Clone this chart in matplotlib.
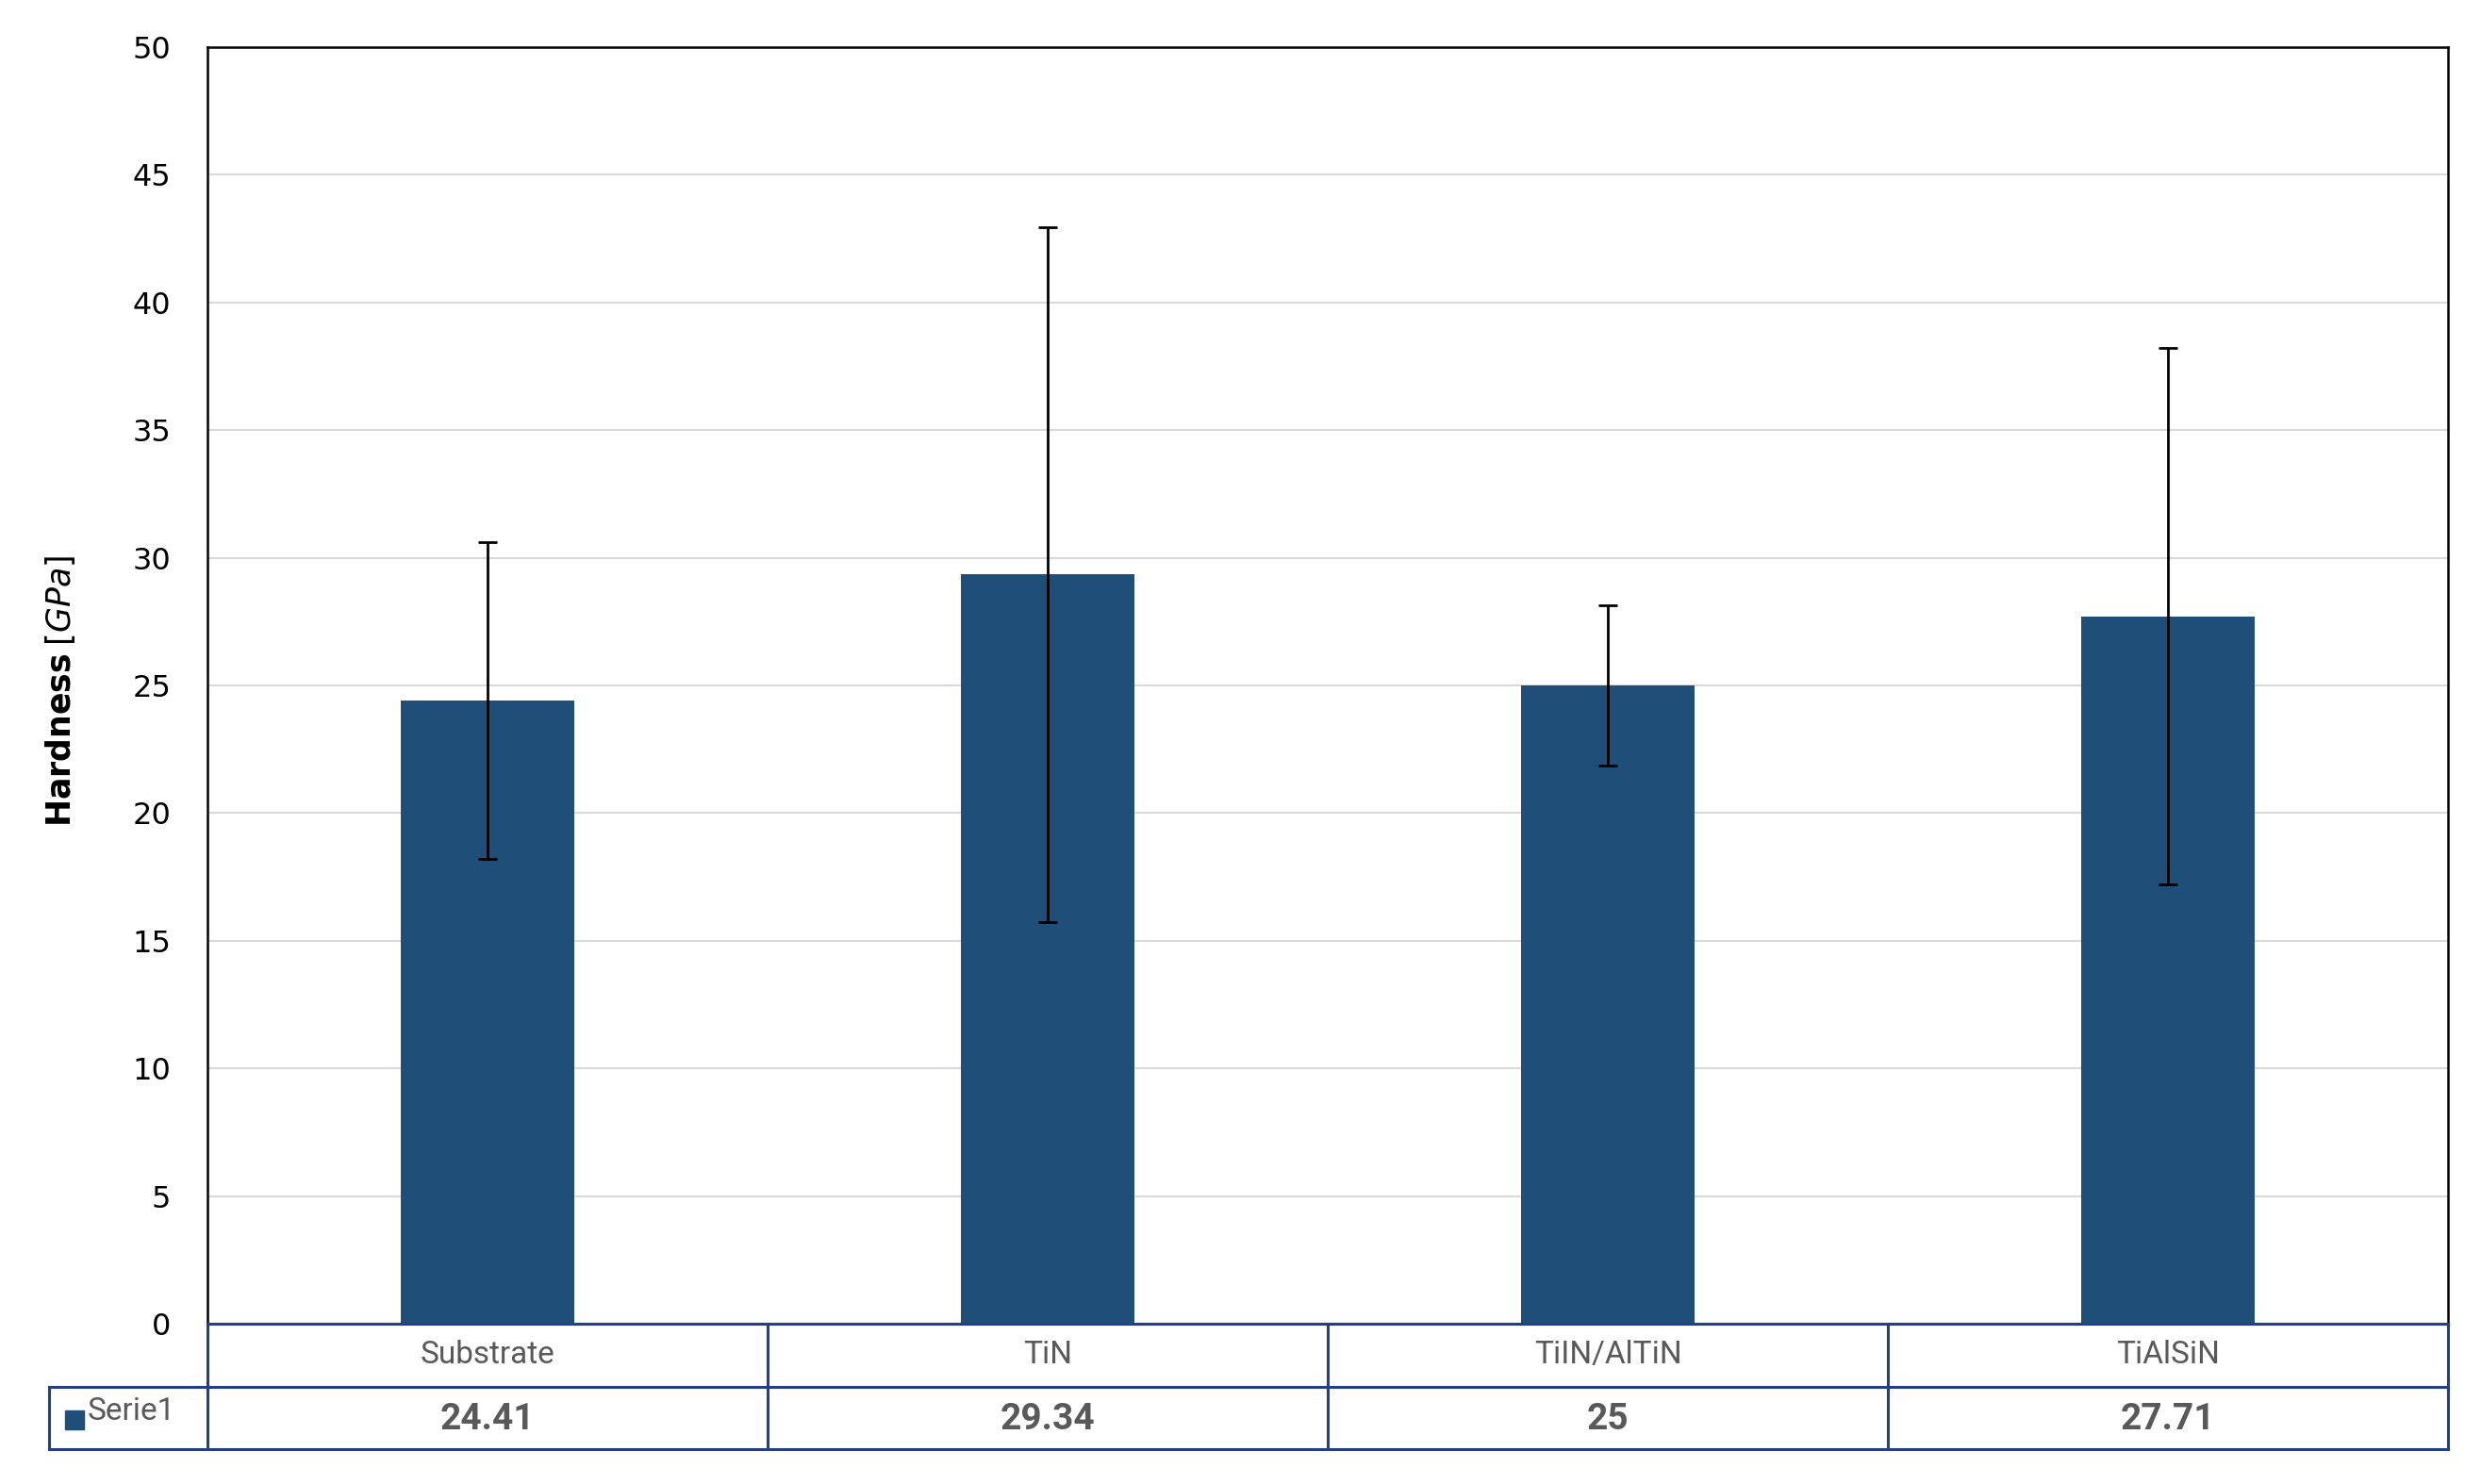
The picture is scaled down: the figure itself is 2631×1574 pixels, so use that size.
import matplotlib
matplotlib.use("Agg")
import matplotlib.pyplot as plt
from matplotlib import font_manager
import numpy as np

categories = ["Substrate", "TiN", "TiIN/AlTiN", "TiAlSiN"]
hardness = [24.41, 29.34, 25, 27.71]
errors = [6.2, 13.6, 3.15, 10.5]
series_name = "Serie1"
yticks = [0, 5, 10, 15, 20, 25, 30, 35, 40, 45, 50]

BAR = "#1F4E79"
TBL = "#233E8B"
GRID = "#D9D9D9"
TXT = "#595959"

names = {f.name for f in font_manager.fontManager.ttflist}
narrow = "Liberation Sans Narrow" if "Liberation Sans Narrow" in names else "Roboto"

W, H = 2631, 1574
fig = plt.figure(figsize=(W / 100, H / 100), dpi=100)
fig.patch.set_facecolor("white")

L, R, T, B = 220, 2596, 50, 1404
TB = 1537
ax = fig.add_axes([L / W, 1 - B / H, (R - L) / W, (B - T) / H])
x = np.arange(len(categories))
ax.bar(x, hardness, width=0.31, color=BAR, zorder=3)
ax.errorbar(x, hardness, yerr=errors, fmt="none", ecolor="black",
            elinewidth=2.0, capsize=7, capthick=2.0, zorder=4)
ax.set_xlim(-0.5, len(categories) - 0.5)
ax.set_ylim(0, 50)
ax.set_yticks(yticks)
ax.set_xticks([])
ax.tick_params(axis="y", length=0, pad=28, labelsize=23, labelcolor="black")
for lab in ax.get_yticklabels():
    lab.set_family("DejaVu Sans")
ax.yaxis.grid(True, color=GRID, linewidth=1.5, zorder=0)
for s in ["left", "top", "right"]:
    ax.spines[s].set_color("black")
    ax.spines[s].set_linewidth(1.8)
ax.spines["bottom"].set_color(TBL)
ax.spines["bottom"].set_linewidth(2.2)

fig.text(64 / W, 1 - 733 / H, r"$\bf{Hardness}$ $\it{[GPa]}$", rotation=90,
         ha="center", va="center", fontsize=25, family=narrow)

# table below the plot
tax = fig.add_axes([L / W, 1 - TB / H, (R - L) / W, (TB - B) / H])
tax.set_xlim(-0.5, len(categories) - 0.5)
tax.set_ylim(0, 2)
tax.axis("off")
lc = dict(color=TBL, linewidth=2.2, clip_on=False)
xl = -0.5 - (L - 52) / ((R - L) / len(categories))
tax.plot([-0.5, len(categories) - 0.5], [2, 2], **lc)
tax.plot([xl, len(categories) - 0.5], [1, 1], **lc)
tax.plot([xl, len(categories) - 0.5], [0, 0], **lc)
tax.plot([xl, xl], [0, 1], **lc)
for b in np.arange(-0.5, len(categories), 1.0):
    tax.plot([b, b], [0, 2], **lc)
for i, (c, v) in enumerate(zip(categories, hardness)):
    tax.text(i, 1.5, c, ha="center", va="center", fontsize=24, color=TXT, family=narrow)
    tax.text(i, 0.47, f"{v:g}", ha="center", va="center", fontsize=28,
             color=TXT, fontweight="bold", family=narrow)
tax.plot([xl + 0.045], [0.47], marker="s", markersize=15, color=BAR, clip_on=False)
tax.text(xl + 0.068, 0.6, series_name, ha="left", va="center", fontsize=24,
         color=TXT, family=narrow)

fig.savefig("out.png", dpi=100, facecolor="white")
